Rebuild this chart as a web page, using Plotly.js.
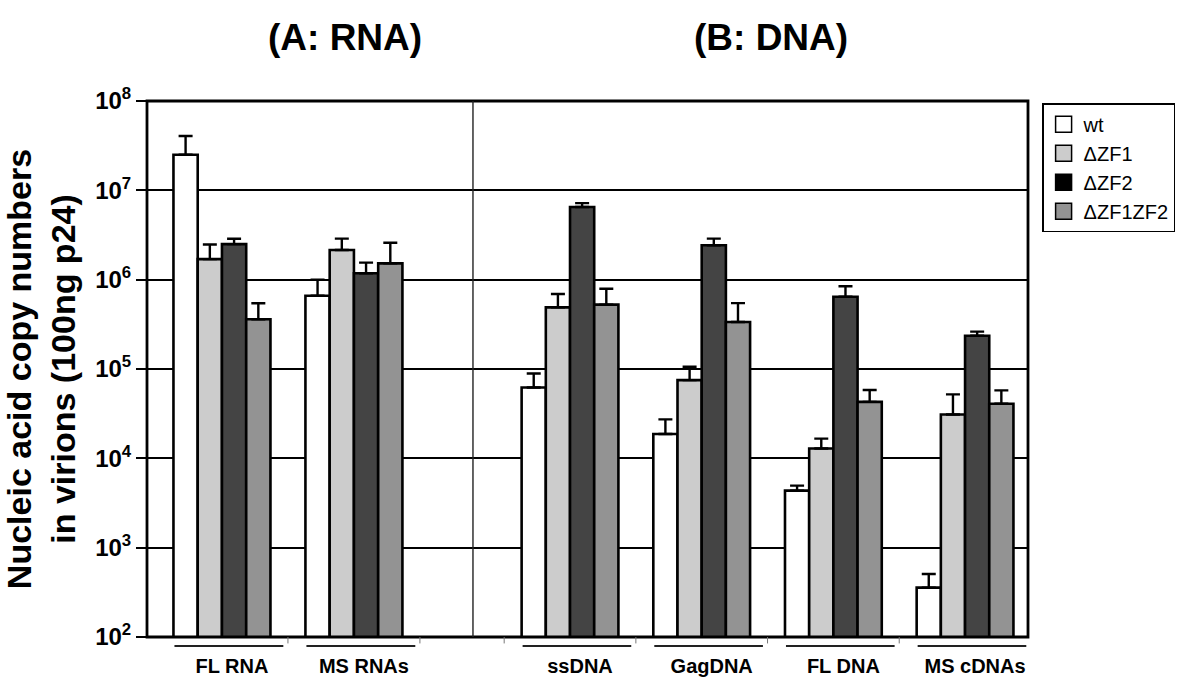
<!DOCTYPE html>
<html>
<head>
<meta charset="utf-8">
<script src="https://cdn.plot.ly/plotly-3.0.1.min.js"></script>
<style>
  html, body { margin: 0; padding: 0; background: #ffffff; }
  #chart { width: 1200px; height: 691px; }
</style>
</head>
<body>
<div id="chart"></div>
<script>
// ---------------- data ----------------
const categories = ['FL RNA', 'MS RNAs', 'ssDNA', 'GagDNA', 'FL DNA', 'MS cDNAs'];
const panelOf    = ['A', 'A', 'B', 'B', 'B', 'B'];   // (A: RNA) / (B: DNA)

const seriesNames = ['wt', '\u0394ZF1', '\u0394ZF2', '\u0394ZF1ZF2'];

const wt          = [2.5e7, 6.6e5, 6.2e4, 1.87e4, 4.35e3, 357];
const wtErr       = [1.55e7, 3.4e5, 2.7e4, 8.6e3, 6.0e2, 150];
const dZF1        = [1.7e6, 2.15e6, 4.9e5, 7.5e4, 1.29e4, 3.1e4];
const dZF1Err     = [7.8e5, 7.3e5, 2.0e5, 3.1e4, 3.7e3, 2.1e4];
const dZF2        = [2.5e6, 1.18e6, 6.5e6, 2.43e6, 6.45e5, 2.36e5];
const dZF2Err     = [3.7e5, 3.7e5, 7.0e5, 4.5e5, 2.0e5, 2.6e4];
const dZF1ZF2     = [3.6e5, 1.52e6, 5.25e5, 3.36e5, 4.28e4, 4.09e4];
const dZF1ZF2Err  = [1.85e5, 1.07e6, 2.67e5, 2.1e5, 1.54e4, 1.68e4];

const yTickVals = [1e2, 1e3, 1e4, 1e5, 1e6, 1e7, 1e8];
const yTickText = ['10<sup>2</sup>', '10<sup>3</sup>', '10<sup>4</sup>', '10<sup>5</sup>',
                   '10<sup>6</sup>', '10<sup>7</sup>', '10<sup>8</sup>'];

// ---------------- styling ----------------
const FONT = 'Liberation Sans, Arial, Helvetica, sans-serif';
const barColors    = ['#ffffff', '#cccccc', '#444444', '#939393'];
const legendColors = ['#ffffff', '#cccccc', '#000000', '#939393'];
const values = [wt, dZF1, dZF2, dZF1ZF2];
const errors = [wtErr, dZF1Err, dZF2Err, dZF1ZF2Err];

const idxA = categories.map((c, i) => i).filter(i => panelOf[i] === 'A');
const idxB = categories.map((c, i) => i).filter(i => panelOf[i] === 'B');
const catsA = idxA.map(i => categories[i]);
const catsB = idxB.map(i => categories[i]);

const traces = [];
seriesNames.forEach((name, s) => {
  [[idxA, 'x'], [idxB, 'x2']].forEach(([idx, xa]) => {
    traces.push({
      type: 'bar',
      name: name,
      x: idx.map(i => categories[i]),
      y: idx.map(i => values[s][i]),
      xaxis: xa,
      yaxis: 'y',
      showlegend: false,
      hoverinfo: 'skip',
      marker: { color: barColors[s], line: { color: '#000000', width: 2.6 } },
      error_y: {
        type: 'data',
        symmetric: false,
        array: idx.map(i => errors[s][i]),
        arrayminus: idx.map(() => 0),
        color: '#000000',
        thickness: 2.4,
        width: 7
      }
    });
  });
});
// legend entries (legend swatch of ΔZF2 is black in the original)
seriesNames.forEach((name, s) => {
  traces.push({
    type: 'scatter', mode: 'markers', name: name,
    x: [null], y: [null], xaxis: 'x2', yaxis: 'y',
    hoverinfo: 'skip',
    marker: { symbol: 'square', size: 16, color: legendColors[s], line: { color: '#000000', width: 1.5 } }
  });
});

// panel geometry
const splitX = 0.37;
const rangeA = [-0.568, 1.902];
const rangeB = [-0.737, 3.478];

const shapes = [];
// outer frame
shapes.push({ type: 'rect', xref: 'paper', yref: 'paper', x0: 0, x1: 1, y0: 0, y1: 1,
  line: { color: '#000000', width: 2.8 }, layer: 'above' });
// divider between RNA and DNA panels
shapes.push({ type: 'line', xref: 'paper', yref: 'paper', x0: splitX, x1: splitX, y0: 0, y1: 1,
  line: { color: '#222222', width: 1.4 }, layer: 'above' });
// small separator ticks and underline bars under each category
function addCatDecor(cats, xref, offset) {
  cats.forEach((c, i) => {
    shapes.push({ type: 'line', xref: xref, yref: 'paper', x0: i + offset, x1: i + offset, y0: 0, y1: -0.012,
      line: { color: '#777777', width: 1 } });
    shapes.push({ type: 'line', xref: xref, yref: 'paper', x0: i - 0.36, x1: i + 0.465, y0: -0.017, y1: -0.017,
      line: { color: '#222222', width: 2 } });
  });
}
addCatDecor(catsA, 'x', 0.5);
addCatDecor(catsB, 'x2', -0.5);

const xCommon = {
  type: 'category',
  showgrid: false, zeroline: false, showline: false,
  ticks: '',
  ticklabelstandoff: 15,
  ticklabelshift: 10,
  tickfont: { family: FONT, size: 20, color: '#000000', weight: 'bold' },
  fixedrange: true
};

const layout = {
  width: 1200, height: 691,
  margin: { l: 147, r: 172, t: 101, b: 54 },
  paper_bgcolor: '#ffffff', plot_bgcolor: '#ffffff',
  font: { family: FONT, color: '#000000' },
  barmode: 'group', bargap: 0.265, bargroupgap: 0,
  xaxis: Object.assign({}, xCommon, { domain: [0, splitX], range: rangeA, anchor: 'y' }),
  xaxis2: Object.assign({}, xCommon, { domain: [splitX, 1], range: rangeB, anchor: 'y' }),
  yaxis: {
    type: 'log', range: [2, 8],
    tickmode: 'array', tickvals: yTickVals, ticktext: yTickText,
    ticks: 'outside', ticklen: 10, tickwidth: 1.8, tickcolor: '#000000',
    showgrid: true, gridcolor: '#000000', gridwidth: 2,
    zeroline: false, showline: false,
    tickfont: { family: FONT, size: 24, color: '#000000', weight: 'bold' },
    title: {
      text: 'Nucleic acid copy numbers<br>in virions (100ng p24)',
      font: { family: FONT, size: 34, color: '#000000', weight: 'bold' },
      standoff: 16
    },
    fixedrange: true
  },
  legend: {
    x: 1.016, y: 0.996, xanchor: 'left', yanchor: 'top',
    bgcolor: '#ffffff', bordercolor: '#000000', borderwidth: 1.5,
    font: { family: FONT, size: 20, color: '#000000' },
    itemwidth: 30, tracegroupgap: 0
  },
  annotations: [
    { text: '(A: RNA)', xref: 'paper', yref: 'paper', x: 0.2247, y: 1.119, xanchor: 'center', yanchor: 'middle',
      showarrow: false, font: { family: FONT, size: 37, color: '#000000', weight: 'bold' } },
    { text: '(B: DNA)', xref: 'paper', yref: 'paper', x: 0.708, y: 1.119, xanchor: 'center', yanchor: 'middle',
      showarrow: false, font: { family: FONT, size: 37, color: '#000000', weight: 'bold' } }
  ],
  shapes: shapes,
  showlegend: true,
  hovermode: false
};

Plotly.newPlot('chart', traces, layout, { displayModeBar: false });
</script>
</body>
</html>
